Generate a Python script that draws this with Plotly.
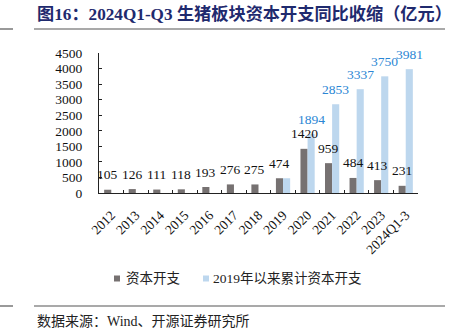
import plotly.graph_objects as go

categories = ["2012", "2013", "2014", "2015", "2016", "2017", "2018",
              "2019", "2020", "2021", "2022", "2023", "2024Q1-3"]
capex = [105, 126, 111, 118, 193, 276, 275, 474, 1420, 959, 484, 413, 231]
cum_capex = [None, None, None, None, None, None, None, 474, 1894, 2853, 3337, 3750, 3981]
y_ticks = [0, 500, 1000, 1500, 2000, 2500, 3000, 3500, 4000, 4500]
legend_names = ["资本开支", "2019年以来累计资本开支"]

W, H = 458, 329
L, R, T, B = 99, 418, 53, 193
BARGAP = 0.42

def px(x):
    return (x - L) / (R - L)

def py(y):
    return (B - y) / (B - T)

FONT = "Liberation Serif, Times New Roman, Noto Sans CJK SC"
DARK = "#767171"
LIGHT = "#BDD7EE"
BLUE_TXT = "#2A86D4"
LABEL_SHIFT = 15

fig = go.Figure()
fig.add_trace(go.Bar(
    x=categories, y=capex, name=legend_names[0],
    marker=dict(color=DARK, line=dict(width=0)),
))
fig.add_trace(go.Bar(
    x=categories, y=cum_capex, name=legend_names[1],
    marker=dict(color=LIGHT, line=dict(width=0)),
))

# value labels drawn on top of everything
cw = (R - L) / len(categories)
bar_w = cw * (1 - BARGAP) / 2
for i, v in enumerate(capex):
    fig.add_annotation(x=i, y=v, xref="x", yref="y", text=str(v), showarrow=False,
                       xshift=-bar_w / 2, yshift=LABEL_SHIFT, yanchor="middle", xanchor="center",
                       font=dict(family=FONT, size=13.5, color="#111111"))
for i, v in enumerate(cum_capex):
    if v is None or v == capex[i]:
        continue
    fig.add_annotation(x=i, y=v, xref="x", yref="y", text=str(v), showarrow=False,
                       xshift=bar_w / 2, yshift=LABEL_SHIFT, yanchor="middle", xanchor="center",
                       font=dict(family=FONT, size=13.5, color=BLUE_TXT))

fig.update_layout(
    width=W, height=H,
    margin=dict(l=L, r=W - R, t=T, b=H - B),
    paper_bgcolor="white", plot_bgcolor="white",
    barmode="group", bargap=BARGAP, bargroupgap=0,
    font=dict(family=FONT, size=13, color="#111111"),
    showlegend=False,
    xaxis=dict(type="category", tickangle=-45, showline=True, linecolor="#222222", linewidth=1,
               ticks="inside", ticklen=3, tickcolor="#222222", tickson="boundaries",
               range=[-0.5, len(categories) - 0.5], ticklabelstandoff=8,
               showgrid=False, tickfont=dict(family=FONT, size=13.5)),
    yaxis=dict(range=[0, 4500], tickvals=y_ticks, showline=True, linecolor="#222222", linewidth=1,
               ticks="inside", ticklen=3, tickcolor="#222222", showgrid=False, zeroline=False,
               ticklabelstandoff=13, tickfont=dict(family=FONT, size=13.5)),
)

# custom legend
for (sx, tx), name, col in zip([(114, 124), (203, 211)], legend_names, [DARK, LIGHT]):
    fig.add_shape(type="rect", xref="paper", yref="paper", x0=px(sx), x1=px(sx + 6),
                  y0=py(281.5), y1=py(275.5), fillcolor=col, line=dict(width=0))
    fig.add_annotation(xref="paper", yref="paper", x=px(tx), y=py(278.5), xanchor="left",
                       yanchor="middle", text=name, showarrow=False,
                       font=dict(family=FONT, size=13.5, color="#222222"))

line_col = "#555555"
for x0, x1, yy in [(0, 13, 29), (34, 445, 29), (0, 13, 306), (34, 445, 306)]:
    fig.add_shape(type="line", xref="paper", yref="paper", x0=px(x0), x1=px(x1),
                  y0=py(yy), y1=py(yy), line=dict(color=line_col, width=1.2))

fig.add_annotation(xref="paper", yref="paper", x=px(35), y=py(14), xanchor="left", yanchor="middle",
                   text="<b>图16：2024Q1-Q3 生猪板块资本开支同比收缩（亿元）</b>", showarrow=False,
                   font=dict(family=FONT, size=17.2, color="#1F2A6E"))
fig.add_annotation(xref="paper", yref="paper", x=px(35), y=py(321), xanchor="left", yanchor="middle",
                   text="数据来源：Wind、开源证券研究所", showarrow=False,
                   font=dict(family=FONT, size=14, color="#222222"))

fig.write_html("out.html")
